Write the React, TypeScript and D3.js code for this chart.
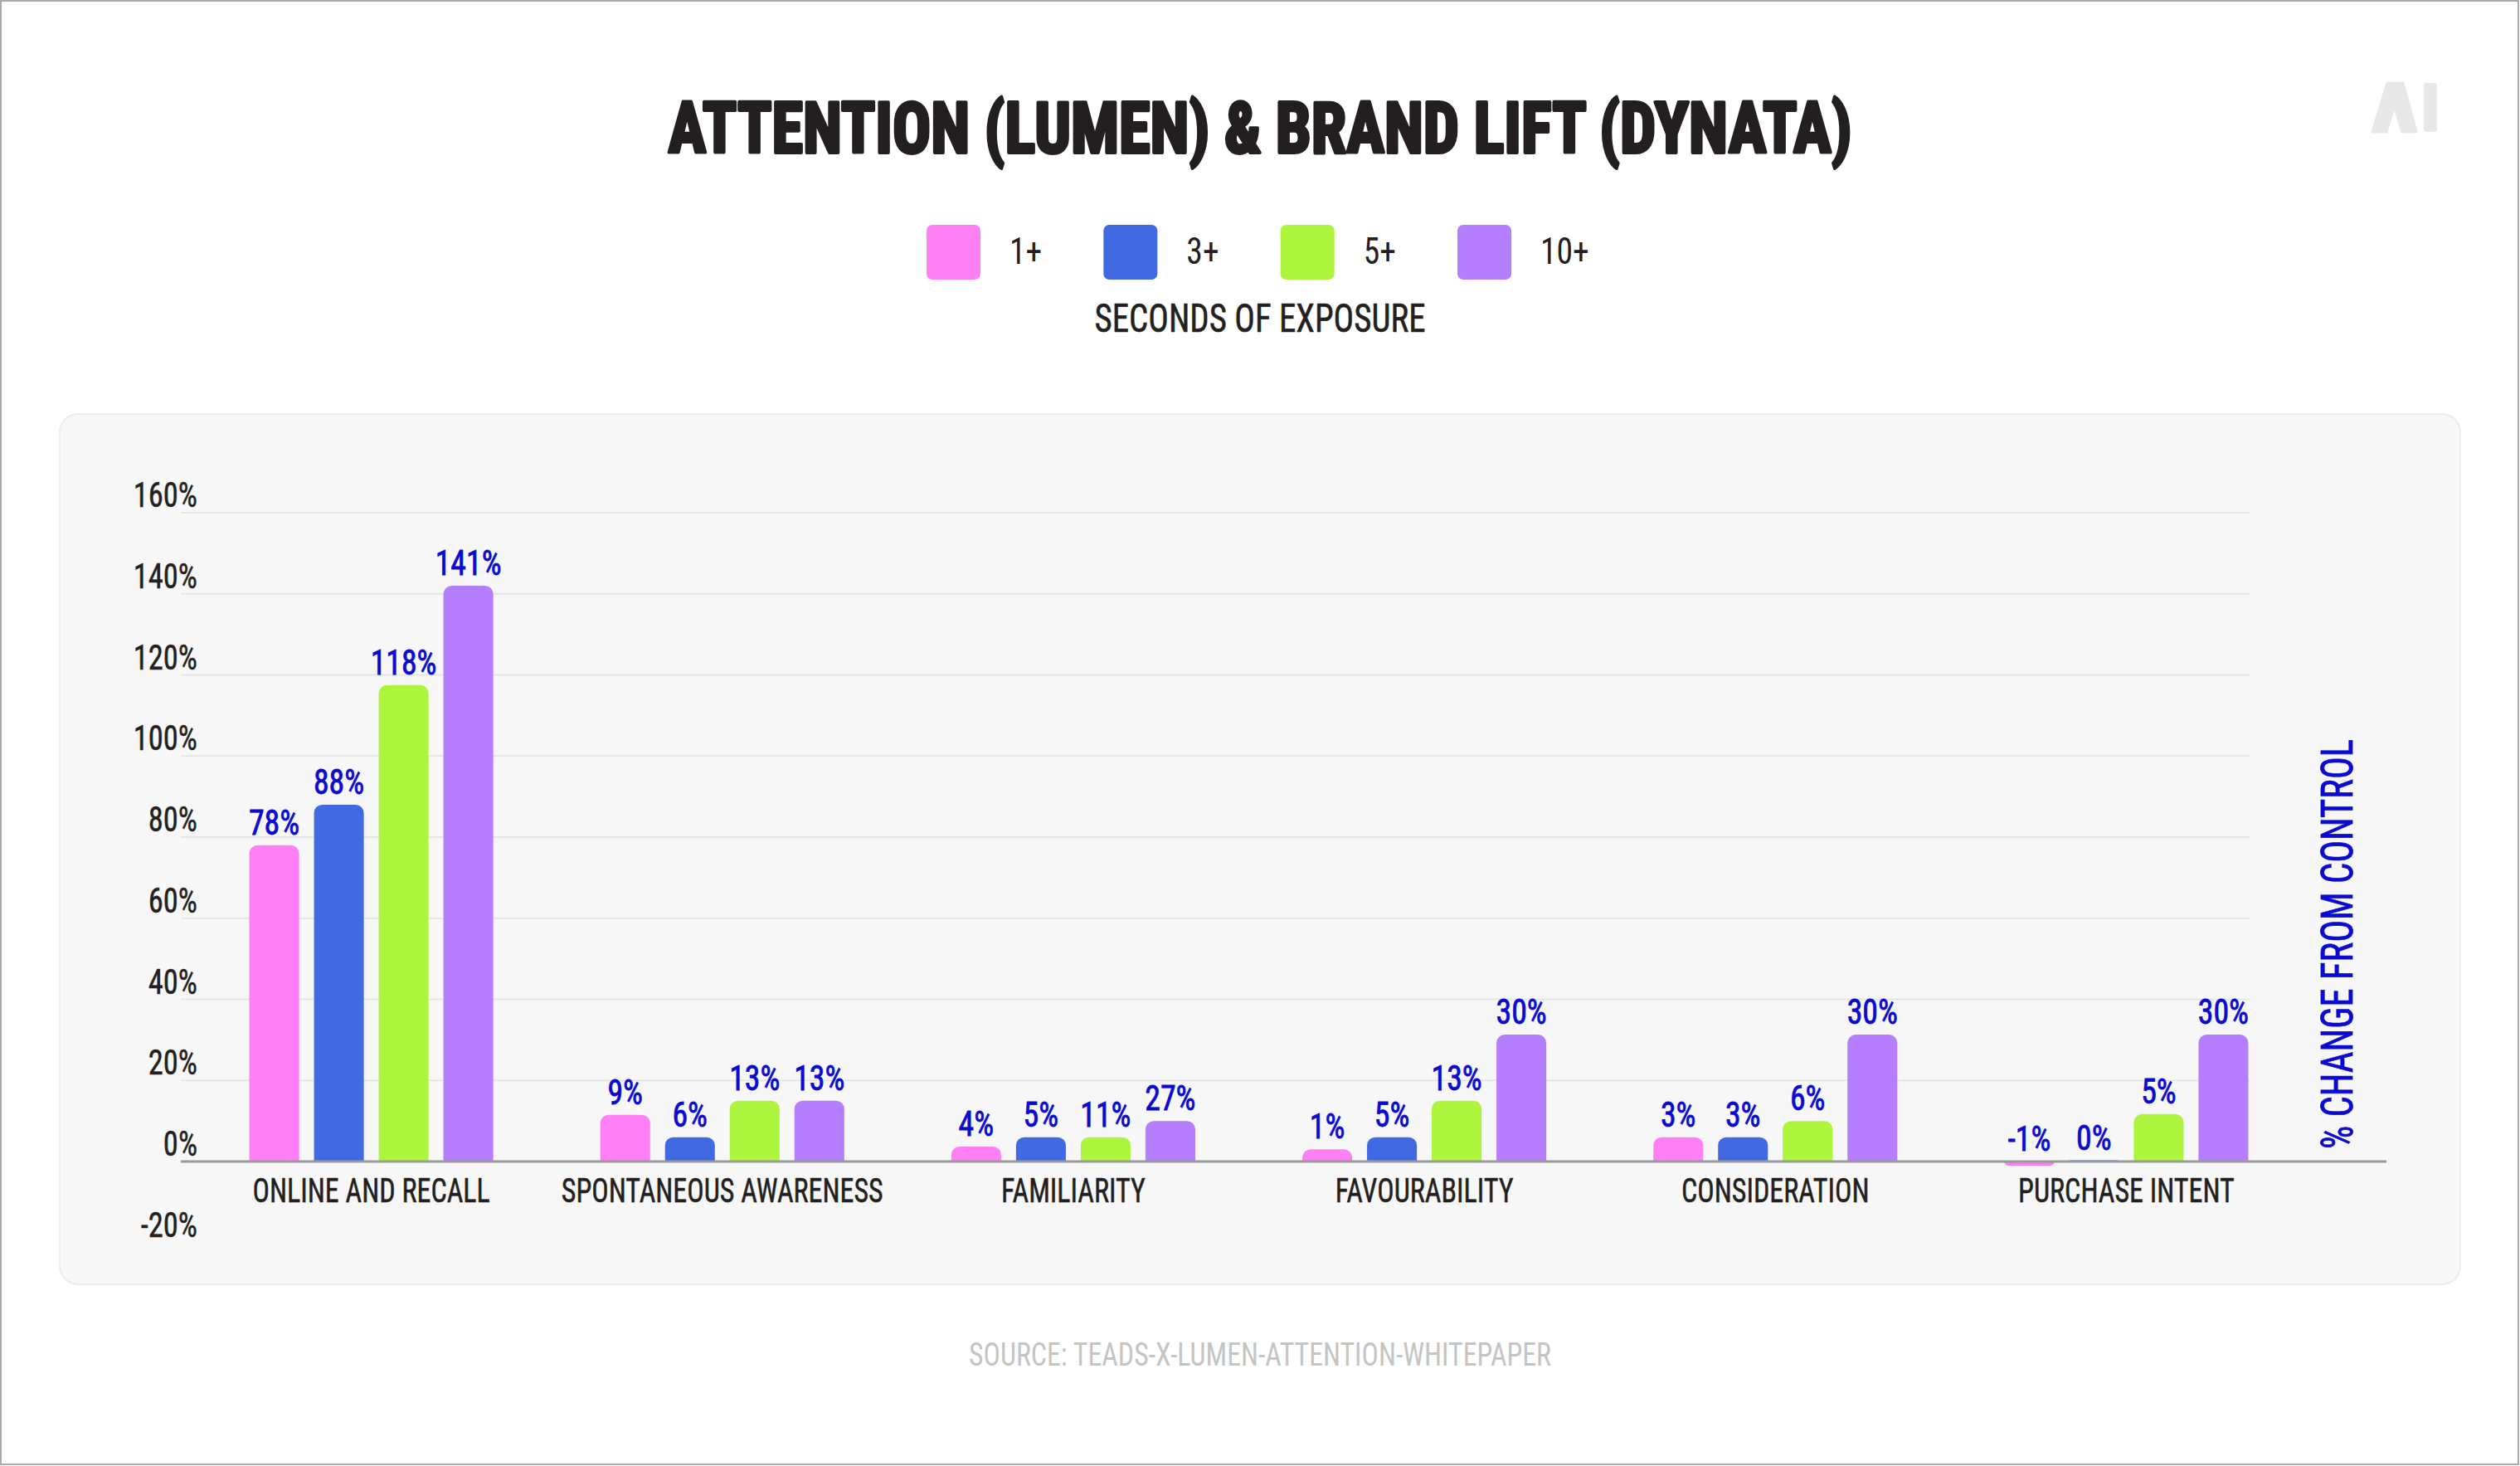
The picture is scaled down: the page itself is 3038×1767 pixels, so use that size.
import * as d3 from "d3";

const categories = [
  "ONLINE AND RECALL",
  "SPONTANEOUS AWARENESS",
  "FAMILIARITY",
  "FAVOURABILITY",
  "CONSIDERATION",
  "PURCHASE INTENT",
];
const seriesNames = ["1+", "3+", "5+", "10+"];
const seriesColors = ["#ff80f4", "#4169e1", "#adf43c", "#b57efe"];

// bar heights as drawn in the picture (% change)
const sec1 = [78, 11.5, 3.7, 3, 6, -1];
const sec3 = [88, 6, 6, 6, 6, 0.3];
const sec5 = [117.5, 15, 6, 15, 10, 11.7];
const sec10 = [142, 15, 10, 31.3, 31.3, 31.3];

// value labels as printed above the bars
const sec1Labels = ["78%", "9%", "4%", "1%", "3%", "-1%"];
const sec3Labels = ["88%", "6%", "5%", "5%", "3%", "0%"];
const sec5Labels = ["118%", "13%", "11%", "13%", "6%", "5%"];
const sec10Labels = ["141%", "13%", "27%", "30%", "30%", "30%"];

const yTicks = [-20, 0, 20, 40, 60, 80, 100, 120, 140, 160];

const series = [sec1, sec3, sec5, sec10];
const seriesLabels = [sec1Labels, sec3Labels, sec5Labels, sec10Labels];

const W = 3038;
const H = 1767;
const NARROW = "'Liberation Sans Narrow', 'Roboto Condensed', 'DejaVu Sans Condensed', sans-serif";
const DARK = "#231f20";
const BLUE = "#0a0ad0";

function barPath(x: number, w: number, y0: number, y1: number, r: number) {
  const h = Math.abs(y0 - y1);
  const rr = Math.min(r, h, w / 2);
  if (y1 <= y0) {
    return `M${x},${y0}V${y1 + rr}A${rr},${rr} 0 0 1 ${x + rr},${y1}H${x + w - rr}A${rr},${rr} 0 0 1 ${x + w},${y1 + rr}V${y0}Z`;
  }
  return `M${x},${y0}V${y1 - rr}A${rr},${rr} 0 0 0 ${x + rr},${y1}H${x + w - rr}A${rr},${rr} 0 0 0 ${x + w},${y1 - rr}V${y0}Z`;
}

function T({ x, y, sx = 1, anchor = "middle", children, ...rest }: any) {
  return (
    <text transform={`translate(${x},${y}) scale(${sx},1)`} textAnchor={anchor} {...rest}>
      {children}
    </text>
  );
}

export default function App() {
  const x0 = d3
    .scaleBand<string>()
    .domain(categories)
    .range([236, 2775])
    .paddingInner(0.305)
    .paddingOuter(0.1525);
  const x1 = d3
    .scaleBand<string>()
    .domain(seriesNames)
    .range([0, x0.bandwidth()])
    .paddingInner(0.23);
  const y = d3.scaleLinear().domain([-20, 160]).range([1497.75, 618]);

  const legendX = d3.scalePoint<string>().domain(seriesNames).range([1117, 1757]);

  return (
    <svg
      width={W}
      height={H}
      style={{ position: "absolute", left: 0, top: 0 }}
      fontFamily={NARROW}
    >
      <rect x={0} y={0} width={W} height={H} fill="#fff" />
      <rect x={1} y={1} width={W - 3} height={H - 3} fill="none" stroke="#aaaaaa" strokeWidth={2} />

      {/* logo */}
      <g fill="#e8e8e8">
        <path d="M2878,100H2897L2913,159H2896L2886.5,128L2877,159H2860Z" strokeLinejoin="round" stroke="#e8e8e8" strokeWidth={3} />
        <rect x={2922} y={100} width={16} height={59} rx={3} />
      </g>

      {/* title */}
      <text
        x={W / 2}
        y={184}
        textAnchor="middle"
        fontSize={86}
        fontWeight="bold"
        fill={DARK}
        stroke={DARK}
        strokeWidth={4}
        strokeLinejoin="round"
        textLength={1427}
        lengthAdjust="spacingAndGlyphs"
      >
        ATTENTION (LUMEN) &amp; BRAND LIFT (DYNATA)
      </text>

      {/* legend */}
      {seriesNames.map((s, i) => (
        <g key={s}>
          <rect x={legendX(s)} y={271} width={65} height={66} rx={7} fill={seriesColors[i]} />
          <T x={legendX(s)! + 100} y={318} sx={0.9} anchor="start" fontSize={44} fill={DARK}>
            {s}
          </T>
        </g>
      ))}
      <text
        x={W / 2}
        y={400}
        textAnchor="middle"
        fontSize={48}
        fill={DARK}
        stroke={DARK}
        strokeWidth={0.6}
        textLength={399}
        lengthAdjust="spacingAndGlyphs"
      >
        SECONDS OF EXPOSURE
      </text>

      {/* panel */}
      <rect x={72} y={499} width={2894} height={1049} rx={22} fill="#f7f7f7" stroke="#ececec" strokeWidth={2} />

      {/* grid + y labels */}
      {yTicks.map((t) => (
        <g key={t}>
          {t > 0 && (
            <line x1={218} x2={2712} y1={y(t)} y2={y(t)} stroke="#e6e6e6" strokeWidth={2} />
          )}
          <T x={238} y={y(t) - 7} sx={0.85} anchor="end" fontSize={43} fill={DARK} stroke={DARK} strokeWidth={0.5}>
            {`${t}%`}
          </T>
        </g>
      ))}

      {/* bars */}
      {categories.map((c, ci) => (
        <g key={c} transform={`translate(${x0(c)},0)`}>
          {seriesNames.map((s, si) => {
            const v = series[si][ci];
            return (
              <g key={s}>
                <path
                  d={barPath(x1(s)!, x1.bandwidth(), y(0), y(v), 10)}
                  fill={seriesColors[si]}
                />
                <T
                  x={x1(s)! + x1.bandwidth() / 2}
                  y={y(Math.max(v, 0)) - 13}
                  sx={0.9}
                  fontSize={42}
                  fill={BLUE}
                  stroke={BLUE}
                  strokeWidth={0.8}
                >
                  {seriesLabels[si][ci]}
                </T>
              </g>
            );
          })}
          <T x={x0.bandwidth() / 2} y={1449} sx={0.83} fontSize={41} fill={DARK} stroke={DARK} strokeWidth={0.5}>
            {c}
          </T>
        </g>
      ))}

      {/* zero line */}
      <line x1={218} x2={2877} y1={y(0)} y2={y(0)} stroke="#9a9a9a" strokeWidth={3} />

      {/* right axis title */}
      <text
        transform={`translate(2836,1138) rotate(-90)`}
        textAnchor="middle"
        fontSize={54}
        fill={BLUE}
        stroke={BLUE}
        strokeWidth={0.8}
        textLength={494}
        lengthAdjust="spacingAndGlyphs"
      >
        % CHANGE FROM CONTROL
      </text>

      {/* source */}
      <text
        x={W / 2}
        y={1646}
        textAnchor="middle"
        fontSize={38}
        fill="#c4c4c4"
        textLength={702}
        lengthAdjust="spacingAndGlyphs"
      >
        SOURCE: TEADS-X-LUMEN-ATTENTION-WHITEPAPER
      </text>
    </svg>
  );
}
